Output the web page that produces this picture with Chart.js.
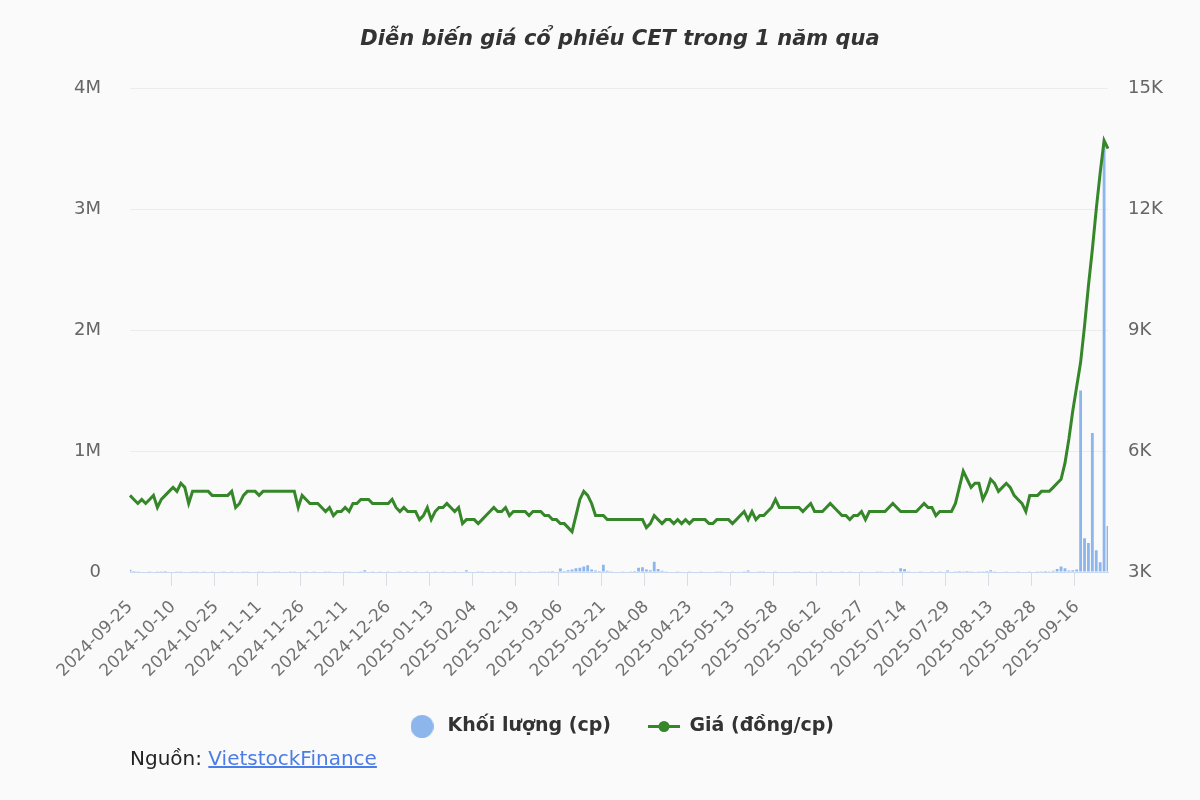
<!DOCTYPE html>
<html><head><meta charset="utf-8">
<script src="https://cdn.jsdelivr.net/npm/chart.js@4.4.1/dist/chart.umd.min.js"></script>
<style>
html,body{margin:0;padding:0;background:#fafafa;}
#wrap{position:relative;width:1200px;height:800px;}
#src{position:absolute;left:130px;top:746px;font:20px "DejaVu Sans",sans-serif;line-height:24px;color:#222;}
#src a{color:#4a7de8;text-decoration:underline;}
</style></head><body>
<div id="wrap"><canvas id="c" width="1200" height="800"></canvas>
<div id="src">Nguồn: <a href="#">VietstockFinance</a></div></div>
<script>
// Trading days per month (categories)
const tradingDays = [
  ["2024-09",[25,26,27,30]],
  ["2024-10",[1,2,3,4,7,8,9,10,11,14,15,16,17,18,21,22,23,24,25,28,29,30,31]],
  ["2024-11",[1,4,5,6,7,8,11,12,13,14,15,18,19,20,21,22,25,26,27,28,29]],
  ["2024-12",[2,3,4,5,6,9,10,11,12,13,16,17,18,19,20,23,24,25,26,27,30,31]],
  ["2025-01",[2,3,6,7,8,9,10,13,14,15,16,17,20,21,22,23,24]],
  ["2025-02",[3,4,5,6,7,10,11,12,13,14,17,18,19,20,21,24,25,26,27,28]],
  ["2025-03",[3,4,5,6,7,10,11,12,13,14,17,18,19,20,21,24,25,26,27,28,31]],
  ["2025-04",[1,2,3,4,8,9,10,11,14,15,16,17,18,21,22,23,24,25,28,29]],
  ["2025-05",[5,6,7,8,9,12,13,14,15,16,19,20,21,22,23,26,27,28,29,30]],
  ["2025-06",[2,3,4,5,6,9,10,11,12,13,16,17,18,19,20,23,24,25,26,27,30]],
  ["2025-07",[1,2,3,4,7,8,9,10,11,14,15,16,17,18,21,22,23,24,25,28,29,30,31]],
  ["2025-08",[1,4,5,6,7,8,11,12,13,14,15,18,19,20,21,22,25,26,27,28,29]],
  ["2025-09",[3,4,5,8,9,10,11,12,15,16,17,18,19,22,23,24,25,26]]
];
const labels = [];
tradingDays.forEach(([m, ds]) => ds.forEach(d => labels.push(m + "-" + String(d).padStart(2, "0"))));

// Price (đồng/cp), by month
const priceSep24 = [4900,4800,4700,4800];
const priceOct24 = [4700,4800,4900,4600,4800,4900,5000,5100,5000,5200,5100,4700,5000,5000,5000,5000,5000,4900,4900,4900,4900,4900,5000];
const priceNov24 = [4600,4700,4900,5000,5000,5000,4900,5000,5000,5000,5000,5000,5000,5000,5000,5000,4600,4900,4800,4700,4700];
const priceDec24 = [4700,4600,4500,4600,4400,4500,4500,4600,4500,4700,4700,4800,4800,4800,4700,4700,4700,4700,4700,4800,4600,4500];
const priceJan25 = [4600,4500,4500,4500,4300,4400,4600,4300,4500,4600,4600,4700,4600,4500,4600,4200,4300];
const priceFeb25 = [4300,4300,4200,4300,4400,4500,4600,4500,4500,4600,4400,4500,4500,4500,4500,4400,4500,4500,4500,4400];
const priceMar25 = [4400,4300,4300,4200,4200,4100,4000,4400,4800,5000,4900,4700,4400,4400,4400,4300,4300,4300,4300,4300,4300];
const priceApr25 = [4300,4300,4300,4300,4100,4200,4400,4300,4200,4300,4300,4200,4300,4200,4300,4200,4300,4300,4300,4300];
const priceMay25 = [4200,4200,4300,4300,4300,4300,4200,4300,4400,4500,4300,4500,4300,4400,4400,4500,4600,4800,4600,4600];
const priceJun25 = [4600,4600,4600,4600,4500,4600,4700,4500,4500,4500,4600,4700,4600,4500,4400,4400,4300,4400,4400,4500,4300];
const priceJul25 = [4500,4500,4500,4500,4500,4600,4700,4600,4500,4500,4500,4500,4500,4600,4700,4600,4600,4400,4500,4500,4500,4500,4700];
const priceAug25 = [5100,5500,5300,5100,5200,5200,4800,5000,5300,5200,5000,5100,5200,5100,4900,4800,4700,4500,4900,4900,4900];
const priceSep25 = [5000,5000,5000,5100,5200,5300,5700,6300,7000,7600,8200,9100,10100,11000,12000,12900,13700,13500];
const price = [].concat(priceSep24,priceOct24,priceNov24,priceDec24,priceJan25,priceFeb25,priceMar25,priceApr25,priceMay25,priceJun25,priceJul25,priceAug25,priceSep25);

// Volume (cp), by month
const volSep24 = [18000,9000,6000,5000];
const volOct24 = [4000,7000,5000,3000,6000,8000,4000,5000,3000,6000,4000,5000,7000,3000,4000,6000,5000,3000,4000,5000,6000,4000,3000];
const volNov24 = [5000,4000,6000,3000,5000,4000,7000,3000,4000,5000,6000,3000,4000,5000,3000,6000,4000,5000,3000,4000,6000];
const volDec24 = [4000,5000,3000,6000,4000,5000,4000,6000,3000,5000,4000,6000,14000,5000,3000,4000,6000,5000,3000,4000,5000,6000];
const volJan25 = [4000,3000,5000,6000,4000,5000,3000,4000,6000,5000,3000,4000,5000,6000,4000,5000,15000];
const volFeb25 = [5000,4000,6000,3000,5000,4000,6000,5000,3000,4000,6000,5000,4000,3000,5000,6000,4000,5000,7000,6000];
const volMar25 = [6000,9000,5000,28000,8000,15000,20000,30000,35000,45000,55000,20000,12000,8000,60000,10000,6000,5000,4000,6000,5000];
const volApr25 = [7000,9000,35000,40000,20000,15000,85000,25000,10000,6000,5000,4000,6000,5000,4000,6000,5000,4000,3000,5000];
const volMay25 = [4000,5000,6000,3000,5000,4000,6000,5000,4000,6000,12000,5000,4000,6000,3000,5000,4000,6000,5000,4000];
const volJun25 = [5000,4000,6000,3000,5000,4000,6000,5000,4000,3000,5000,6000,4000,5000,3000,4000,6000,5000,4000,6000,5000];
const volJul25 = [4000,5000,6000,3000,5000,4000,6000,5000,30000,25000,6000,5000,4000,6000,5000,4000,3000,5000,6000,4000,12000,5000,6000];
const volAug25 = [8000,7000,9000,6000,5000,7000,6000,8000,15000,6000,5000,4000,6000,5000,4000,6000,5000,4000,6000,5000,7000];
const volSep25 = [6000,8000,7000,10000,25000,45000,30000,12000,15000,20000,1500000,280000,240000,1150000,180000,80000,3550000,380000];
const volume = [].concat(volSep24,volOct24,volNov24,volDec24,volJan25,volFeb25,volMar25,volApr25,volMay25,volJun25,volJul25,volAug25,volSep25);

const volTicks = [0,1000000,2000000,3000000,4000000];
const volTickLabels = ["0","1M","2M","3M","4M"];
const priceTicks = [3000,6000,9000,12000,15000];
const priceTickLabels = ["3K","6K","9K","12K","15K"];

const FONT = '"DejaVu Sans", sans-serif';
const BAR = '#8db6ec';
const GREEN = '#36862a';
const LABEL_EVERY = 11;

function circleIcon(d, color){
  const c = document.createElement('canvas'); c.width = d; c.height = d;
  const x = c.getContext('2d'); x.fillStyle = color; x.beginPath(); x.arc(d/2, d/2, d/2, 0, Math.PI*2); x.fill();
  return c;
}
function lineDotIcon(w, h, color){
  const c = document.createElement('canvas'); c.width = w; c.height = h;
  const x = c.getContext('2d'); x.strokeStyle = color; x.lineWidth = 3;
  x.beginPath(); x.moveTo(0, h/2); x.lineTo(w, h/2); x.stroke();
  x.fillStyle = color; x.beginPath(); x.arc(w/2, h/2, 5.5, 0, Math.PI*2); x.fill();
  return c;
}
const icons = [circleIcon(23, BAR), lineDotIcon(32, 13, GREEN)];

new Chart(document.getElementById('c'), {
  type: 'bar',
  data: {
    labels: labels,
    datasets: [
      { type: 'bar', label: 'Khối lượng (cp)', data: volume, yAxisID: 'yVol', backgroundColor: BAR,
        barPercentage: 0.9, categoryPercentage: 0.8, order: 2 },
      { type: 'line', label: 'Giá (đồng/cp)', data: price, yAxisID: 'yPrice', borderColor: GREEN, backgroundColor: GREEN,
        borderWidth: 3, pointRadius: 0, tension: 0, order: 1 }
    ]
  },
  options: {
    responsive: false, animation: false,
    layout: { padding: { left: 40, right: 0, top: 0, bottom: 54 } },
    plugins: {
      title: { display: true, text: 'Diễn biến giá cổ phiếu CET trong 1 năm qua', color: '#333',
        font: { family: FONT, size: 21, weight: 'bold', style: 'italic' }, padding: { top: 27, bottom: 36 } },
      legend: { position: 'bottom', labels: {
        usePointStyle: true, pointStyleWidth: 32, padding: 37, color: '#333',
        font: { family: FONT, size: 19, weight: 'bold' },
        generateLabels: chart => chart.data.datasets.map((ds, i) => ({
          text: ds.label, pointStyle: icons[i], fillStyle: i ? GREEN : BAR, strokeStyle: i ? GREEN : BAR,
          lineWidth: 0, hidden: false, datasetIndex: i, fontColor: '#333'
        }))
      } },
      tooltip: { enabled: false }
    },
    scales: {
      x: {
        offset: false,
        afterFit: s => { s.height = 108; },
        grid: { drawOnChartArea: false, drawTicks: true, tickLength: 14,
          color: ctx => (ctx.index % LABEL_EVERY === 0 ? '#d9dde3' : 'rgba(0,0,0,0)') },
        border: { display: true, color: '#c9d9ee' },
        ticks: { autoSkip: false, minRotation: 45, maxRotation: 45, color: '#717171', padding: 11,
          font: { family: FONT, size: 17 },
          callback: (v, i) => (i % LABEL_EVERY === 0 ? labels[i] : '') }
      },
      yVol: {
        position: 'left', min: 0, max: 4000000,
        afterFit: s => { s.width = 90; },
        afterBuildTicks: s => { s.ticks = volTicks.map(v => ({ value: v })); },
        grid: { color: '#ececec', drawTicks: false },
        border: { display: false },
        ticks: { padding: 29, color: '#666', font: { family: FONT, size: 18 },
          callback: v => volTickLabels[volTicks.indexOf(v)] }
      },
      yPrice: {
        position: 'right', min: 3000, max: 15000,
        afterFit: s => { s.width = 92; },
        afterBuildTicks: s => { s.ticks = priceTicks.map(v => ({ value: v })); },
        grid: { drawOnChartArea: false, drawTicks: false },
        border: { display: false },
        ticks: { padding: 20, color: '#666', font: { family: FONT, size: 18 },
          callback: v => priceTickLabels[priceTicks.indexOf(v)] }
      }
    }
  }
});
</script>
</body></html>
